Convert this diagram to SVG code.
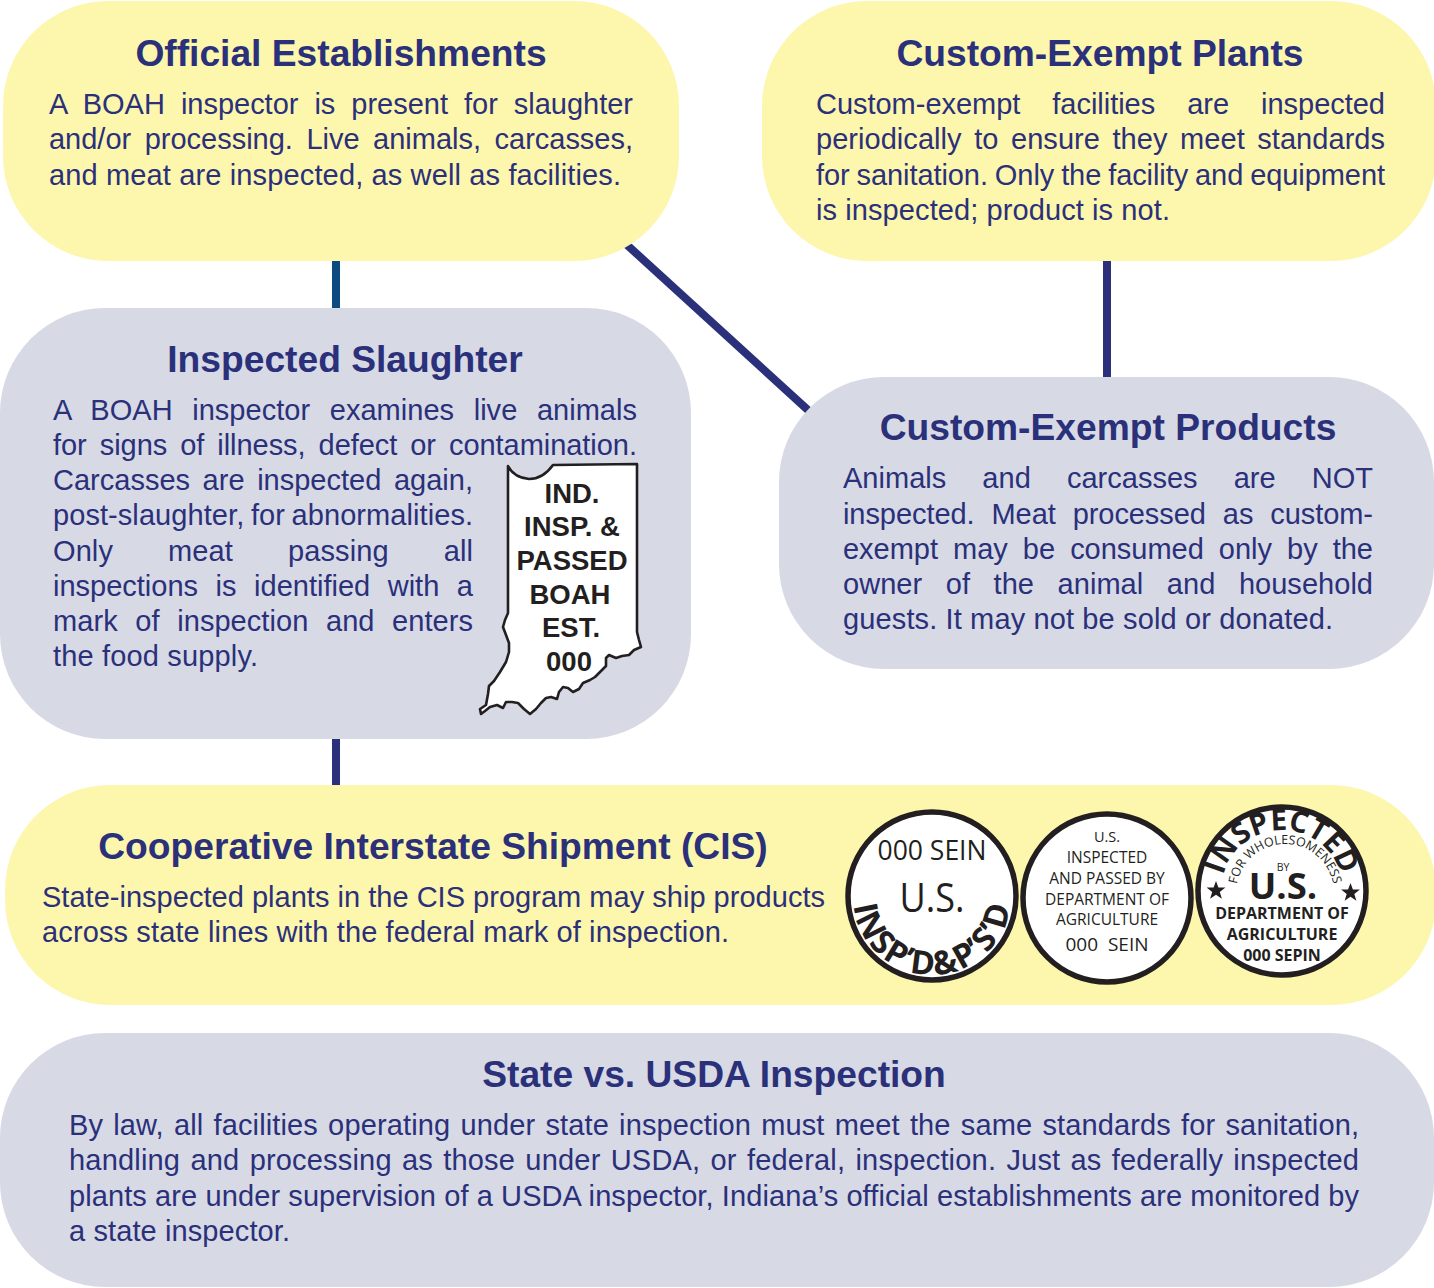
<svg xmlns="http://www.w3.org/2000/svg" xmlns:xlink="http://www.w3.org/1999/xlink" width="1434" height="1288" viewBox="0 0 1434 1288">
<style>
.y{fill:#fdf6ad}.g{fill:#d7d9e5}
.h{font:bold 37.2px "Liberation Sans",Arial,sans-serif;fill:#2a3079;text-anchor:middle}
.b{font:29px "Liberation Sans",Arial,sans-serif;fill:#2a3079}
.c{fill:none;stroke:#2a3079;stroke-width:8}
.s{fill:#fff;stroke:#231f20;stroke-width:5.500}
.m{font-family:"Open Sans","Noto Sans",sans-serif;fill:#231f20;text-anchor:middle;white-space:pre}
.mb{font-weight:700}
.i{font:bold 27.500px "Liberation Sans",Arial,sans-serif;fill:#231f20;text-anchor:middle}
</style>
<defs>
<path id="a1" d="M853 896A79 79 0 0 0 1011 896"/>
<path id="a3" d="M1221 891A61 61 0 0 1 1343 891"/>
<path id="a4" d="M1236 893A49 49 0 0 1 1334 893"/>
</defs>
<rect width="1434" height="1288" fill="#fff"/>
<g id="connectors">
<path class="c" d="M336 258V312" style="stroke:#0c4a80"/>
<path class="c" d="M336 736V790"/>
<path class="c" d="M626 244L809 411"/>
<path class="c" d="M1107 258V380"/>
</g>
<g id="official-establishments">
<rect class="y" x="3" y="1" width="676" height="260" rx="105"/>
<text class="h" x="341" y="66">Official Establishments</text>
<text class="b" x="49" y="114" textLength="584" word-spacing="8">A BOAH inspector is present for slaughter</text>
<text class="b" x="49" y="149" textLength="584" word-spacing="5.500">and/or processing. Live animals, carcasses,</text>
<text class="b" x="49" y="185" textLength="572">and meat are inspected, as well as facilities.</text>
</g>
<g id="custom-exempt-plants">
<rect class="y" x="762" y="1" width="674" height="260" rx="105"/>
<text class="h" x="1100" y="66">Custom-Exempt Plants</text>
<text class="b" x="816" y="114" textLength="569" word-spacing="24">Custom-exempt facilities are inspected</text>
<text class="b" x="816" y="149" textLength="569" word-spacing="4.500">periodically to ensure they meet standards</text>
<text class="b" x="816" y="185" textLength="569" word-spacing="-1">for sanitation. Only the facility and equipment</text>
<text class="b" x="816" y="220" textLength="354">is inspected; product is not.</text>
</g>
<g id="inspected-slaughter">
<rect class="g" x="0" y="308" width="691" height="431" rx="105"/>
<text class="h" x="345" y="372">Inspected Slaughter</text>
<text class="b" x="53" y="420" textLength="584" word-spacing="11.500">A BOAH inspector examines live animals</text>
<text class="b" x="53" y="455" textLength="584" word-spacing="5">for signs of illness, defect or contamination.</text>
<text class="b" x="53" y="490" textLength="420" word-spacing="4.500">Carcasses are inspected again,</text>
<text class="b" x="53" y="525" textLength="420" word-spacing="-1.500">post-slaughter, for abnormalities.</text>
<text class="b" x="53" y="561" textLength="420" word-spacing="47">Only meat passing all</text>
<text class="b" x="53" y="596" textLength="420" word-spacing="9.500">inspections is identified with a</text>
<text class="b" x="53" y="631" textLength="420" word-spacing="9.500">mark of inspection and enters</text>
<text class="b" x="53" y="666" textLength="205">the food supply.</text>
<path d="M508 466C512 474 520 478 529 479C540 479 548 472 553 465L637 464V632L639 640L641 647L634 650L629 655L622 656L616 658L609 655L606 658L606 666L600 672L595 677L590 680L583 683L579 689L573 692L568 688L563 687L559 692L557 699L551 697L546 698L541 703L536 709L530 714L524 709L518 703L512 702L506 702L503 708L497 705L490 707L485 711L481 714L480 709L486 705L488 694L489 686L494 681L500 672L506 662L509 652L509 643L506 635L503 627L505 620L508 613Z" fill="#fff" stroke="#231f20" stroke-width="2.600" stroke-linejoin="round"/>
<text class="i" x="572" y="503">IND.</text>
<text class="i" x="572" y="536">INSP. &amp;</text>
<text class="i" x="572" y="570">PASSED</text>
<text class="i" x="570" y="604">BOAH</text>
<text class="i" x="571" y="637">EST.</text>
<text class="i" x="569" y="671">000</text>
</g>
<g id="custom-exempt-products">
<rect class="g" x="779" y="377" width="655" height="292" rx="105"/>
<text class="h" x="1108" y="440">Custom-Exempt Products</text>
<text class="b" x="843" y="488" textLength="530" word-spacing="28">Animals and carcasses are NOT</text>
<text class="b" x="843" y="524" textLength="530" word-spacing="9">inspected. Meat processed as custom-</text>
<text class="b" x="843" y="559" textLength="530" word-spacing="7">exempt may be consumed only by the</text>
<text class="b" x="843" y="594" textLength="530" word-spacing="15.500">owner of the animal and household</text>
<text class="b" x="843" y="629" textLength="490">guests. It may not be sold or donated.</text>
</g>
<g id="cooperative-interstate-shipment">
<rect class="y" x="5" y="785" width="1431" height="220" rx="105"/>
<text class="h" x="433" y="859">Cooperative Interstate Shipment (CIS)</text>
<text class="b" x="42" y="907" textLength="783">State-inspected plants in the CIS program may ship products</text>
<text class="b" x="42" y="942" textLength="687">across state lines with the federal mark of inspection.</text>
<circle class="s" cx="932" cy="896" r="84"/>
<text class="m" x="932" y="860" font-size="26.500">000 SEIN</text>
<text class="m" x="932" y="912" font-size="41" textLength="65" lengthAdjust="spacingAndGlyphs">U.S.</text>
<text class="m mb" font-size="33" letter-spacing="1.500"><textPath xlink:href="#a1" href="#a1" startOffset="50%">INSP’D&amp;P’S’D</textPath></text>
<circle class="s" cx="1107" cy="898" r="84"/>
<text class="m" x="1107" y="842" font-size="14.500">U.S.</text>
<text class="m" x="1107" y="863" font-size="15.500">INSPECTED</text>
<text class="m" x="1107" y="884" font-size="15.500">AND PASSED BY</text>
<text class="m" x="1107" y="905" font-size="15.500">DEPARTMENT OF</text>
<text class="m" x="1107" y="925" font-size="15.500">AGRICULTURE</text>
<text class="m" x="1107" y="951" font-size="19">000  SEIN</text>
<circle class="s" cx="1282" cy="891" r="84"/>
<text class="m mb" font-size="29.500"><textPath xlink:href="#a3" href="#a3" startOffset="50%">INSPECTED</textPath></text>
<text class="m" font-size="12.500"><textPath xlink:href="#a4" href="#a4" startOffset="50%">FOR WHOLESOMENESS</textPath></text>
<text class="m" x="1283" y="871" font-size="10.500">BY</text>
<text class="m mb" x="1283" y="899" font-size="36.500">U.S.</text>
<path fill="#231f20" d="M1216 881l2.400 6.600h7l-5.600 4.300 2.100 6.800-5.900-4-5.900 4 2.100-6.800-5.600-4.300h7zM1350.500 883l2.400 6.600h7l-5.600 4.300 2.100 6.800-5.900-4-5.900 4 2.100-6.800-5.600-4.300h7z"/>
<text class="m mb" x="1282" y="919" font-size="16">DEPARTMENT OF</text>
<text class="m mb" x="1282" y="940" font-size="16">AGRICULTURE</text>
<text class="m mb" x="1282" y="961" font-size="16">000 SEPIN</text>
</g>
<g id="state-vs-usda-inspection">
<rect class="g" x="0" y="1033" width="1434" height="254" rx="105"/>
<text class="h" x="714" y="1087">State vs. USDA Inspection</text>
<text class="b" x="69" y="1135" textLength="1290" word-spacing="2">By law, all facilities operating under state inspection must meet the same standards for sanitation,</text>
<text class="b" x="69" y="1170" textLength="1290" word-spacing="2">handling and processing as those under USDA, or federal, inspection. Just as federally inspected</text>
<text class="b" x="69" y="1206" textLength="1290">plants are under supervision of a USDA inspector, Indiana’s official establishments are monitored by</text>
<text class="b" x="69" y="1241" textLength="221">a state inspector.</text>
</g>
</svg>
